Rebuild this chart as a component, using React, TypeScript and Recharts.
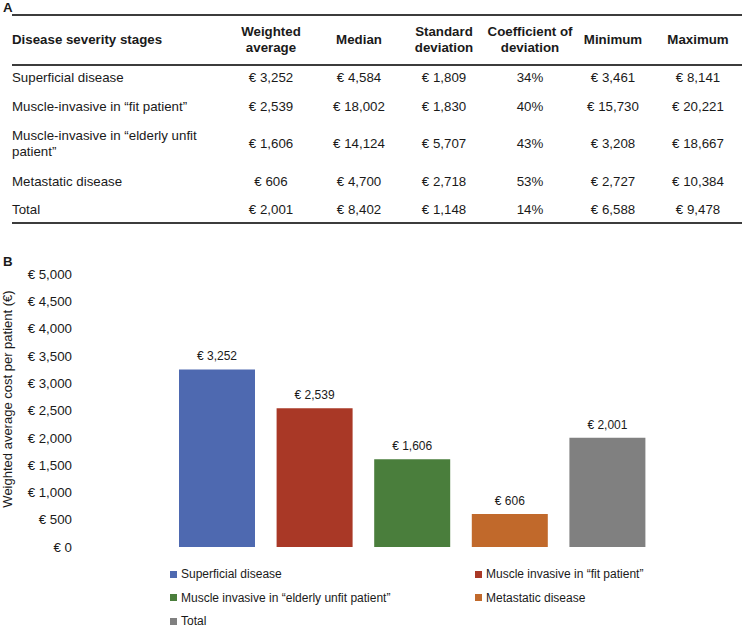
import React from "react";
import { Bar, BarChart, Cell, LabelList, XAxis, YAxis } from "recharts";

// Table A data
const stages = [
  "Superficial disease",
  "Muscle-invasive in “fit patient”",
  "Muscle-invasive in “elderly unfit patient”",
  "Metastatic disease",
  "Total"
];
const headers = ["Weighted\naverage", "Median", "Standard\ndeviation", "Coefficient of\ndeviation", "Minimum", "Maximum"];
const weightedAvg = [3252, 2539, 1606, 606, 2001];
const median = [4584, 18002, 14124, 4700, 8402];
const stdDev = [1809, 1830, 5707, 2718, 1148];
const coefVar = [34, 40, 43, 53, 14];
const minimum = [3461, 15730, 3208, 2727, 6588];
const maximum = [8141, 20221, 18667, 10384, 9478];

// Chart B data
const barNames = [
  "Superficial disease",
  "Muscle invasive in “fit patient”",
  "Muscle invasive in “elderly unfit patient”",
  "Metastatic disease",
  "Total"
];
const barColors = ["#4e69b0", "#a93826", "#4a7e3c", "#c1692b", "#808080"];
const yTicks = [0, 500, 1000, 1500, 2000, 2500, 3000, 3500, 4000, 4500, 5000];

const font = "'Liberation Sans', Arial, sans-serif";
const euro = (v: number) => "€ " + v.toLocaleString("en-US");

const colCenters = [271, 359, 444, 530, 613, 698];
const rowCenters = [78, 107, 144, 182, 210];

function Celltext({ x, y, children, bold, align = "center" }: { x: number; y: number; children: React.ReactNode; bold?: boolean; align?: string }) {
  return (
    <div
      style={{
        position: "absolute",
        left: x,
        top: y,
        transform: align === "center" ? "translate(-50%, -50%)" : "translate(0, -50%)",
        textAlign: align as any,
        whiteSpace: align === "center" ? "pre" : "normal",
        width: align === "center" ? undefined : 198,
        fontWeight: bold ? 700 : 400,
        lineHeight: "16px"
      }}
    >
      {children}
    </div>
  );
}

function Rule({ y, w = 1.5 }: { y: number; w?: number }) {
  return <div style={{ position: "absolute", left: 12, top: y, width: 730, height: w, background: "#3c3c3c" }} />;
}

export default function App() {
  const cols = [weightedAvg.map(euro), median.map(euro), stdDev.map(euro), coefVar.map((v) => v + "%"), minimum.map(euro), maximum.map(euro)];
  const data = barNames.map((name, i) => ({ name, value: weightedAvg[i] }));

  return (
    <div style={{ position: "absolute", left: 0, top: 0, width: 742, height: 627, fontFamily: font, fontSize: 13.3, color: "#1a1a1a", background: "#fff", overflow: "hidden" }}>
      <div style={{ position: "absolute", left: 3, top: 0, fontWeight: 700 }}>A</div>
      <Rule y={14} />
      <Celltext x={12} y={40} bold align="left">Disease severity stages</Celltext>
      {headers.map((h, i) => (
        <Celltext key={h} x={colCenters[i]} y={40} bold>{h}</Celltext>
      ))}
      <Rule y={64} />
      {stages.map((s, r) => (
        <React.Fragment key={s}>
          <Celltext x={12} y={rowCenters[r]} align="left">{s}</Celltext>
          {cols.map((c, i) => (
            <Celltext key={i} x={colCenters[i]} y={rowCenters[r]}>{c[r]}</Celltext>
          ))}
        </React.Fragment>
      ))}
      <Rule y={222} />

      <div style={{ position: "absolute", left: 3, top: 254, fontWeight: 700 }}>B</div>
      <div
        style={{
          position: "absolute",
          left: 7,
          top: 399,
          transform: "translate(-50%, -50%) rotate(-90deg)",
          whiteSpace: "nowrap",
          fontSize: 13
        }}
      >
        Weighted average cost per patient (€)
      </div>

      <div style={{ position: "absolute", left: 0, top: 0 }}>
        <BarChart width={742} height={627} data={data} margin={{ top: 274, right: 86, bottom: 80, left: 0 }} barSize={76}>
          <XAxis dataKey="name" hide />
          <YAxis
            width={168}
            domain={[0, 5000]}
            ticks={yTicks}
            tickFormatter={euro}
            axisLine={false}
            tickLine={false}
            tickMargin={90}
            tick={{ fontSize: 13.3, fill: "#1a1a1a", fontFamily: font }}
            interval={0}
          />
          <Bar dataKey="value" isAnimationActive={false}>
            {data.map((d, i) => (
              <Cell key={d.name} fill={barColors[i]} />
            ))}
            <LabelList dataKey="value" position="top" offset={9} formatter={(v: any) => euro(Number(v))} style={{ fontSize: 12, fill: "#1a1a1a", fontFamily: font }} />
          </Bar>
        </BarChart>
      </div>

      {barNames.map((n, i) => {
        const col = i % 2;
        const row = Math.floor(i / 2);
        return (
          <div key={n} style={{ position: "absolute", left: col === 0 ? 170 : 475, top: 574 + row * 23.5, transform: "translate(0, -50%)", display: "flex", alignItems: "center", whiteSpace: "nowrap", lineHeight: "12px", fontSize: 12 }}>
            <span style={{ display: "inline-block", width: 7, height: 7, background: barColors[i], marginRight: 4 }} />
            {n}
          </div>
        );
      })}
    </div>
  );
}
